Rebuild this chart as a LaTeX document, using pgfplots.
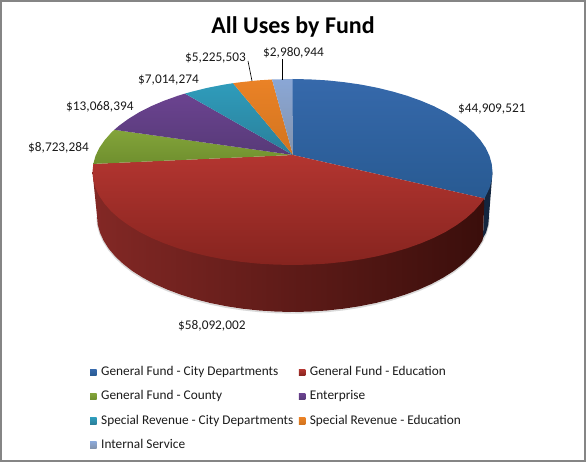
\documentclass[border=0pt]{standalone}
\usepackage{fontspec}
\setmainfont{Carlito}
\usepackage{pgfplots}
\pgfplotsset{compat=1.18}

\definecolor{framegray}{HTML}{858585}
\definecolor{bluetop}{HTML}{3669AB}
\definecolor{bluebot}{HTML}{285A92}
\definecolor{redtop}{HTML}{B33530}
\definecolor{redbot}{HTML}{86241F}
\definecolor{greentop}{HTML}{83A43A}
\definecolor{greenbot}{HTML}{6F8F2E}
\definecolor{purptop}{HTML}{6B4390}
\definecolor{purpbot}{HTML}{573A78}
\definecolor{tealtop}{HTML}{2F9CBB}
\definecolor{tealbot}{HTML}{2A7F9A}
\definecolor{orantop}{HTML}{EA8226}
\definecolor{oranbot}{HTML}{D2741F}
\definecolor{inttop}{HTML}{8AA7D6}
\definecolor{intbot}{HTML}{8393AC}
\definecolor{sideleft}{HTML}{832825}
\definecolor{sidemid}{HTML}{4E1310}
\definecolor{sideright}{HTML}{3A0E0B}
\definecolor{sideblue}{HTML}{14263F}
\definecolor{lbl}{HTML}{1A1A1A}

\begin{document}
\begin{tikzpicture}
\begin{axis}[
    scale only axis,
    width=584pt, height=460pt,
    xmin=1, xmax=585, ymin=1, ymax=461,
    y dir=reverse,
    xtick=\empty, ytick=\empty,
    axis line style={line width=2pt, color=framegray},
    clip=false,
    legend columns=2,
    legend cell align=left,
    legend style={
        at={(axis cs:90,366)}, anchor=north west,
        draw=none, fill=none, font=\fontsize{13.3}{15}\selectfont\color{lbl},
        inner sep=0pt, row sep=11.7pt,
        nodes={text height=9.5pt, text depth=3pt, inner ysep=0pt, inner xsep=2.5pt},
        /tikz/every odd column/.append style={column sep=2pt},
        /tikz/every even column/.append style={column sep=3pt},
    },
    legend image code/.code={\path[#1] (0pt,-3.2pt) rectangle (6.5pt,3.2pt);},
]
% soft shadow under the rim
\addplot[forget plot, draw=black!15, line width=1.4pt, yshift=-1pt] coordinates {
  (97,216) (97.7,224.4) (100,232.7) (103.7,240.8) (108.8,248.8) (115.4,256.6) (123.3,264)
  (132.4,271.1) (142.9,277.7) (154.4,283.9) (167,289.5) (180.6,294.6) (195,299.1)
  (210.2,303) (226,306.2) (242.3,308.7) (259,310.5) (275.9,311.6) (293,312)
  (310.1,311.6) (327,310.5) (343.7,308.7) (360,306.2) (375.8,303) (391,299.1)
  (405.4,294.6) (419,289.5) (431.6,283.9) (443.1,277.7) (453.6,271.1) (462.7,264)
  (470.6,256.6) (477.2,248.8) (482.3,240.8) (486,232.7) (488.3,224.4) (489,216)
};
% rim
\addplot[forget plot, draw=none, fill=sideblue] coordinates {
  (492.5,172) (489,216) (488.3,224.4) (486,232.7) (483,238) (484.3,198.4)
};
\addplot[forget plot, draw=none, left color=sideleft, middle color=sidemid, right color=sideright] coordinates {
  (92.5,172) (97,216) (97.7,224.4) (100,232.7) (103.7,240.8) (108.8,248.8) (115.4,256.6) (123.3,264)
  (132.4,271.1) (142.9,277.7) (154.4,283.9) (167,289.5) (180.6,294.6) (195,299.1)
  (210.2,303) (226,306.2) (242.3,308.7) (259,310.5) (275.9,311.6) (293,312)
  (310.1,311.6) (327,310.5) (343.7,308.7) (360,306.2) (375.8,303) (391,299.1)
  (405.4,294.6) (419,289.5) (431.6,283.9) (443.1,277.7) (453.6,271.1) (462.7,264)
  (470.6,256.6) (477.2,248.8) (482.3,240.8) (483,238) (484.3,198.4)
};
% top faces
\addplot[draw=none, top color=bluetop, bottom color=bluebot] coordinates {
  (293,155) (292.5,79) (309.9,79.4) (327.2,80.4) (344.3,82.2) (360.9,84.6) (377,87.7)
  (392.5,91.5) (407.2,95.8) (421.1,100.8) (433.9,106.2) (445.7,112.2) (456.3,118.7)
  (465.7,125.5) (473.8,132.7) (480.4,140.2) (485.7,147.9) (489.5,155.9) (491.7,163.9)
  (492.5,172) (491.7,180.1) (489.5,188.1) (485.7,196.1) (484.3,198.4)
};
\addlegendentry{General Fund - City Departments}
\addplot[draw=none, top color=redtop, bottom color=redbot] coordinates {
  (293,155) (484.3,198.4) (480.4,203.8) (473.8,211.3) (465.7,218.5) (456.3,225.3)
  (445.7,231.8) (433.9,237.8) (421.1,243.2) (407.2,248.2) (392.5,252.5) (377,256.3)
  (360.9,259.4) (344.3,261.8) (327.2,263.6) (309.9,264.6) (292.5,265) (275.1,264.6)
  (257.8,263.6) (240.7,261.8) (224.1,259.4) (208,256.3) (192.5,252.5) (177.8,248.2)
  (163.9,243.2) (151.1,237.8) (139.3,231.8) (128.7,225.3) (119.3,218.5) (111.2,211.3)
  (104.6,203.8) (99.3,196.1) (95.5,188.1) (93.3,180.1) (92.5,172) (93.3,163.9)
};
\addlegendentry{General Fund - Education}
\addplot[draw=none, top color=greentop, bottom color=greenbot] coordinates {
  (293,155) (93.3,163.9) (95.5,155.9) (99.3,147.9) (104.6,140.2) (111.2,132.7) (114.3,129.8)
};
\addlegendentry{General Fund - County}
\addplot[draw=none, top color=purptop, bottom color=purpbot] coordinates {
  (293,155) (114.3,129.8) (119.3,125.5) (128.7,118.7) (139.3,112.2) (151.1,106.2)
  (163.9,100.8) (177.8,95.8) (185,93.6)
};
\addlegendentry{Enterprise}
\addplot[draw=none, top color=tealtop, bottom color=tealbot] coordinates {
  (293,155) (185,93.6) (192.5,91.5) (208,87.7) (224.1,84.6) (233,83.2)
};
\addlegendentry{Special Revenue - City Departments}
\addplot[draw=none, top color=orantop, bottom color=oranbot] coordinates {
  (293,155) (233,83.2) (240.7,82.2) (257.8,80.4) (272,79.5)
};
\addlegendentry{Special Revenue - Education}
\addplot[draw=none, top color=inttop, bottom color=intbot] coordinates {
  (293,155) (272,79.5) (275.1,79.4) (292.5,79)
};
\addlegendentry{Internal Service}
% leader lines
\addplot[forget plot, color=black, line width=0.6pt] coordinates {(248,61) (252,81)};
\addplot[forget plot, color=black, line width=0.6pt] coordinates {(282,59) (282,80)};

\node[anchor=base, font=\fontsize{24}{28}\bfseries\selectfont, text=black] at (axis cs:293,34) {All Uses by Fund};
\begin{scope}[every node/.style={anchor=west, inner sep=0pt, text=lbl, font=\fontsize{13.3}{15}\selectfont}]
\node at (axis cs:458,109.5) {\$44,909,521};
\node at (axis cs:178,326) {\$58,092,002};
\node at (axis cs:28,148) {\$8,723,284};
\node at (axis cs:66,106.5) {\$13,068,394};
\node at (axis cs:138,80) {\$7,014,274};
\node at (axis cs:185,58) {\$5,225,503};
\node at (axis cs:263,53) {\$2,980,944};
\end{scope}
\end{axis}
\end{tikzpicture}
\end{document}
